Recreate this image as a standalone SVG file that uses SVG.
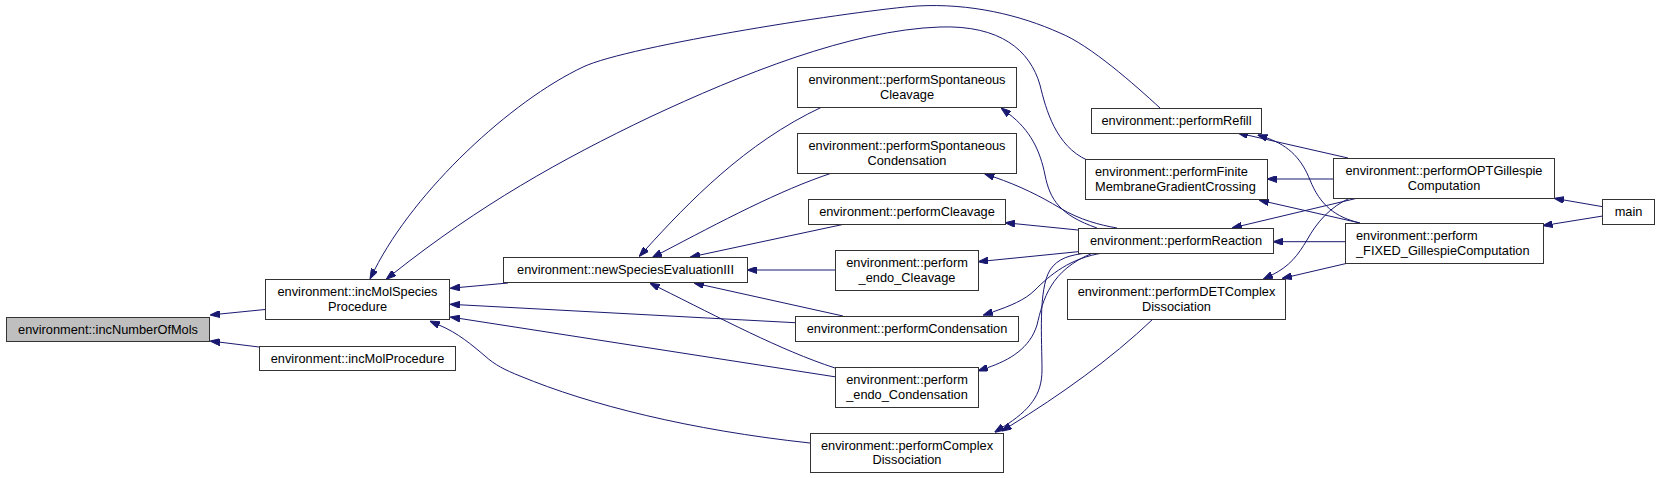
<svg xmlns="http://www.w3.org/2000/svg" width="1659" height="478" viewBox="0 0 1659 478">
<style>
.n rect{fill:#ffffff;stroke:#333333;stroke-width:1}
.n.hl rect{fill:#bfbfbf}
.n text{font-family:"Liberation Sans",Arial,Helvetica,sans-serif;font-size:12.8px;fill:#000000}
.c{text-anchor:middle}
.e path{fill:none;stroke:#191970;stroke-width:1;marker-start:url(#ah)}
</style>
<defs>
<marker id="ah" viewBox="0 0 10 7" refX="0" refY="3.5" markerWidth="10" markerHeight="7" markerUnits="userSpaceOnUse" orient="auto-start-reverse">
<path d="M0,0 L10,3.5 L0,7 z" fill="#191970" stroke="#191970" stroke-width="1"/>
</marker>
</defs>
<rect width="1659" height="478" fill="#ffffff"/>
<g id="connectors" class="e">
<path d="M220,314 L265,309.5"/>
<path d="M220,342.2 L259,347"/>
<path d="M460,287.4 L508,283"/>
<path d="M460,304.8 L795,322.7"/>
<path d="M460,318.5 L835,376.8"/>
<path d="M439,325 C458,333 472,345 485,356 C495,365 505,370 520,376 C590,405 690,430 810,443"/>
<path d="M374.5,270 C415,190 511,101 583,67 C628,45.5 860,10 917,6 C970,3 1020,15 1060,33 C1090,45 1135,85 1160,108"/>
<path d="M394,273 C480,205 560,160 650,117 C740,75 850,30 940,27 C1000,25 1030,50 1040,85 C1046,110 1056,146 1087,160"/>
<path d="M646,249 C688,203 745,143 822,107"/>
<path d="M661,253 C720,222 780,190 832,173"/>
<path d="M700,255 L845,224"/>
<path d="M757,270 L835,270"/>
<path d="M703.8,285.2 L843,316"/>
<path d="M658.9,287.6 C720,318 780,350 835,368"/>
<path d="M1009,114 C1030,130 1040,150 1045,175 C1050,200 1060,215 1097,228"/>
<path d="M994,177 C1020,186 1040,196 1060,208 C1080,220 1100,225 1117,228"/>
<path d="M1015,223.7 L1078,230"/>
<path d="M988,260.7 L1078,251.7"/>
<path d="M992.6,312 C1010,306 1025,300 1035,290 C1050,275 1070,258 1103,253"/>
<path d="M987.5,367.7 C1010,360 1030,348 1037,325 C1043,300 1050,270 1093,253"/>
<path d="M1003,427 C1030,410 1042,395 1042,370 C1042,340 1038,290 1050,270 C1058,258 1070,255 1087,253"/>
<path d="M1010,426 C1060,395 1110,360 1153,319"/>
<path d="M1247.8,135.2 L1348,158"/>
<path d="M1267,138 C1290,146 1302,160 1310,180 C1320,205 1335,217 1360,223"/>
<path d="M1277,179 L1333,179"/>
<path d="M1268.7,202.3 L1360,223"/>
<path d="M1241.7,225.7 L1358,198"/>
<path d="M1283,241.7 L1345,241.7"/>
<path d="M1272,275 C1290,266 1298,255 1307,240 C1317,222 1330,207 1350,198"/>
<path d="M1291.7,276.2 L1347,263.3"/>
<path d="M1563.9,200 L1602.7,206.7"/>
<path d="M1552.6,224.1 L1602.7,216"/>
</g>
<g id="incNumberOfMols" class="n hl"><rect x="6.5" y="317.5" width="203" height="24"/><text class="c" x="108" y="333.5">environment::incNumberOfMols</text></g>
<g id="incMolSpeciesProcedure" class="n"><rect x="265.5" y="279.5" width="184" height="40"/><text class="c" x="357.5" y="296">environment::incMolSpecies</text><text class="c" x="357.5" y="310.6">Procedure</text></g>
<g id="incMolProcedure" class="n"><rect x="259.5" y="346.5" width="196" height="24"/><text class="c" x="357.5" y="362.5">environment::incMolProcedure</text></g>
<g id="newSpeciesEvaluationIII" class="n"><rect x="503.5" y="257.5" width="244" height="25"/><text class="c" x="625.5" y="274.3">environment::newSpeciesEvaluationIII</text></g>
<g id="performSpontaneousCleavage" class="n"><rect x="797.5" y="67.5" width="219" height="40"/><text class="c" x="907" y="84">environment::performSpontaneous</text><text class="c" x="907" y="98.6">Cleavage</text></g>
<g id="performSpontaneousCondensation" class="n"><rect x="797.5" y="133.5" width="219" height="40"/><text class="c" x="907" y="150">environment::performSpontaneous</text><text class="c" x="907" y="164.6">Condensation</text></g>
<g id="performCleavage" class="n"><rect x="808.5" y="199.5" width="197" height="25"/><text class="c" x="907" y="216.3">environment::performCleavage</text></g>
<g id="perform_endo_Cleavage" class="n"><rect x="835.5" y="250.5" width="143" height="40"/><text class="c" x="907" y="267">environment::perform</text><text class="c" x="907" y="281.6">_endo_Cleavage</text></g>
<g id="performCondensation" class="n"><rect x="795.5" y="316.5" width="223" height="25"/><text class="c" x="907" y="333.3">environment::performCondensation</text></g>
<g id="perform_endo_Condensation" class="n"><rect x="835.5" y="367.5" width="143" height="40"/><text class="c" x="907" y="384">environment::perform</text><text class="c" x="907" y="398.6">_endo_Condensation</text></g>
<g id="performComplexDissociation" class="n"><rect x="810.5" y="433.5" width="193" height="39"/><text class="c" x="907" y="449.5">environment::performComplex</text><text class="c" x="907" y="464">Dissociation</text></g>
<g id="performRefill" class="n"><rect x="1091.5" y="108.5" width="170" height="25"/><text class="c" x="1176.5" y="125.3">environment::performRefill</text></g>
<g id="performFiniteMembraneGradientCrossing" class="n"><rect x="1085.5" y="159.5" width="182" height="40"/><text x="1095" y="176">environment::performFinite</text><text x="1095" y="190.6">MembraneGradientCrossing</text></g>
<g id="performReaction" class="n"><rect x="1078.5" y="228.5" width="195" height="25"/><text class="c" x="1176" y="245.3">environment::performReaction</text></g>
<g id="performDETComplexDissociation" class="n"><rect x="1067.5" y="279.5" width="218" height="40"/><text class="c" x="1176.5" y="296">environment::performDETComplex</text><text class="c" x="1176.5" y="310.6">Dissociation</text></g>
<g id="performOPTGillespieComputation" class="n"><rect x="1333.5" y="158.5" width="221" height="40"/><text class="c" x="1444" y="175">environment::performOPTGillespie</text><text class="c" x="1444" y="189.6">Computation</text></g>
<g id="perform_FIXED_GillespieComputation" class="n"><rect x="1345.5" y="223.5" width="198" height="40"/><text x="1356" y="240">environment::perform</text><text x="1356" y="254.6">_FIXED_GillespieComputation</text></g>
<g id="main" class="n"><rect x="1602.5" y="199.5" width="52" height="25"/><text class="c" x="1628.5" y="216.3">main</text></g>
</svg>
